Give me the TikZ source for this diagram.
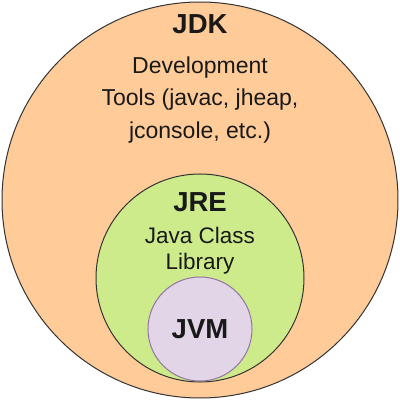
\documentclass[tikz,border=0pt]{standalone}
\usepackage{fontspec}
\setmainfont{Liberation Sans}
\usepackage{tikz}
\usetikzlibrary{positioning}

\definecolor{jdkfill}{HTML}{FFCC99}
\definecolor{jrefill}{HTML}{CDEB8B}
\definecolor{jvmfill}{HTML}{E1D5E7}
\definecolor{jvmline}{HTML}{9673A6}

\tikzset{
  ring/.style={draw=black!80,circle,line width=1pt,inner sep=0pt},
  title/.style={font=\fontsize{27.5}{32}\selectfont\bfseries,text=black!90},
  body/.style={align=center,text=black!90}
}

\begin{document}
\begin{tikzpicture}[x=1pt,y=1pt]
  \useasboundingbox (0,0) rectangle (400,400);
  % nested circles
  \node[ring,fill=jdkfill,minimum size=396pt] (jdk) at (200,200) {};
  \node[ring,fill=jrefill,minimum size=208pt] (jre) at (200,122) {};
  \node[ring,draw=jvmline,fill=jvmfill,minimum size=104pt] (jvm) at (200,71) {};
  % labels
  \node[title] (jdklab) at (200,376) {JDK};
  \node[body,font=\fontsize{23}{32.5}\selectfont] (tools) at (200,300)
        {Development\\Tools (javac, jheap,\\jconsole, etc.)};
  \node[title] (jrelab) at (200,198) {JRE};
  \node[body,font=\fontsize{22.5}{26}\selectfont] (lib) at (200,149)
        {Java Class\\Library};
  \node[title] (jvmlab) at (jvm) {JVM};
\end{tikzpicture}
\end{document}
